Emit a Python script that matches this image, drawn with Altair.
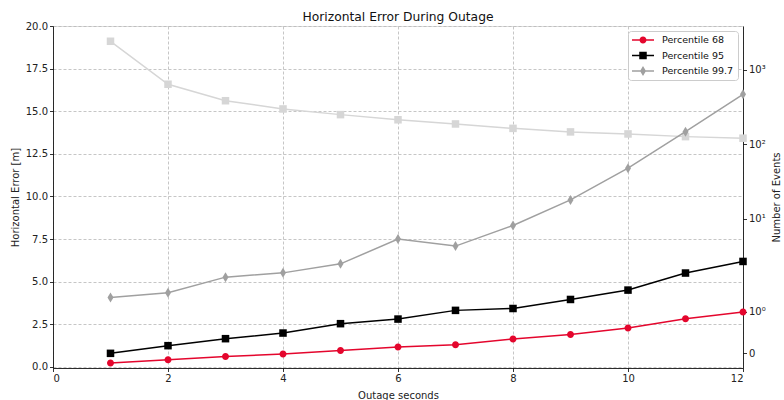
import math
import altair as alt
import pandas as pd

# ---------------- data ----------------
seconds = list(range(1, 13))
p68 = [0.23, 0.43, 0.62, 0.76, 0.97, 1.17, 1.31, 1.64, 1.91, 2.28, 2.83, 3.22]
p95 = [0.80, 1.25, 1.66, 1.99, 2.54, 2.81, 3.32, 3.43, 3.96, 4.51, 5.51, 6.19]
p997 = [4.08, 4.35, 5.27, 5.52, 6.05, 7.50, 7.09, 8.30, 9.80, 11.66, 13.80, 15.99]
events = [2432, 643, 386, 299, 251, 214, 188, 164, 147, 138, 127, 121]

series_names = ["Percentile 68", "Percentile 95", "Percentile 99.7"]
series_colors = ["#e4062d", "#000000", "#a0a0a0"]
events_color = "#d6d6d6"

x_ticks = [0, 2, 4, 6, 8, 10, 12]
y_ticks = [0, 2.5, 5, 7.5, 10, 12.5, 15, 17.5, 20]
event_ticks = [0, 1, 10, 100, 1000]
event_tick_labels = ["0", "10\u2070", "10\u00b9", "10\u00b2", "10\u00b3"]

FONT = "DejaVu Sans"

# symlog transform (linthresh 2, linscale 1, base 10), as in matplotlib
LT = 2.0
ADJ = 1.0 / (1.0 - 1.0 / 10.0)


def symlog(v):
    if abs(v) <= LT:
        return v * ADJ
    return math.copysign(LT * (ADJ + math.log10(abs(v) / LT)), v)


sym_expr = (
    f"abs(datum.n) <= {LT} ? datum.n * {ADJ} : "
    f"{LT} * ({ADJ} + log(datum.n / {LT}) / LN10)"
)
event_tick_pos = [symlog(v) for v in event_ticks]
label_expr = ""
for pos, lab in zip(event_tick_pos, event_tick_labels):
    label_expr += f"abs(datum.value - {pos}) < 0.01 ? '{lab}' : "
label_expr += "''"

pct_df = pd.DataFrame(
    {
        "sec": seconds * 3,
        "series": [series_names[0]] * 12 + [series_names[1]] * 12 + [series_names[2]] * 12,
        "err": p68 + p95 + p997,
    }
)
ev_df = pd.DataFrame({"sec": seconds, "n": events})

# ---------------- marker shapes (unit = 4px at size 64) ----------------
circle_p = "M0.875,0 A0.875,0.875 0 1,1 -0.875,0 A0.875,0.875 0 1,1 0.875,0 Z"
square_p = "M-0.94,-0.94 L0.94,-0.94 L0.94,0.94 L-0.94,0.94 Z"
diamond_p = "M0,-1.25 L0.75,0 L0,1.25 L-0.75,0 Z"


# legend symbols: line + marker (unit = 5px at size 100)
def with_line(marker, gap):
    t = 0.15
    return (
        f"M-2.2,{-t} L{-gap},{-t} L{-gap},{t} L-2.2,{t} Z "
        f"M{gap},{-t} L2.2,{-t} L2.2,{t} L{gap},{t} Z " + marker
    )


leg_circle = with_line("M0.7,0 A0.7,0.7 0 1,1 -0.7,0 A0.7,0.7 0 1,1 0.7,0 Z", 0.6)
leg_square = with_line("M-0.75,-0.75 L0.75,-0.75 L0.75,0.75 L-0.75,0.75 Z", 0.6)
leg_diamond = with_line("M0,-1.0 L0.6,0 L0,1.0 L-0.6,0 Z", 0.5)

# ---------------- encodings ----------------
grid_kw = dict(grid=True, gridColor="#b8b8b8", gridDash=[3, 2], gridWidth=0.8)
axis_kw = dict(
    labelFont=FONT, labelFontSize=10, labelColor="#222222",
    titleFont=FONT, titleFontSize=10, titleFontWeight="normal", titleColor="#222222",
    domainColor="#000000", domainWidth=0.8, tickColor="#000000", tickWidth=0.8,
    tickSize=3.5, labelPadding=2,
)

x_enc = alt.X(
    "sec:Q",
    scale=alt.Scale(domain=[0, 12], nice=False, zero=False),
    axis=alt.Axis(values=x_ticks, format="d", title="Outage seconds",
                  titlePadding=7, **grid_kw, **axis_kw),
)
y_enc = alt.Y(
    "err:Q",
    scale=alt.Scale(domain=[-0.06, 20], nice=False, zero=False),
    axis=alt.Axis(values=y_ticks, format=".1f", title="Horizontal Error [m]",
                  orient="left", titlePadding=5, **grid_kw, **axis_kw),
)
ev_y = alt.Y(
    "u:Q",
    scale=alt.Scale(domain=[-0.395, 8.803], nice=False, zero=False),
    axis=alt.Axis(values=event_tick_pos, labelExpr=label_expr, title="Number of Events",
                  orient="right", grid=False, titleAngle=270, titleBaseline="top",
                  titlePadding=6, **axis_kw),
)

color_enc = alt.Color("series:N", scale=alt.Scale(domain=series_names, range=series_colors), legend=None)

legend = alt.Legend(
    title=None, orient="top-right", offset=5, padding=4,
    strokeColor="#cccccc", fillColor="#ffffff", cornerRadius=3,
    symbolSize=100, symbolStrokeWidth=0, symbolOpacity=1, symbolOffset=6,
    symbolFillColor="#000000",
    labelOffset=14, rowPadding=5.5,
    labelFont=FONT, labelFontSize=9.5, labelColor="#111111",
)

# ---------------- layers ----------------
ev_base = alt.Chart(ev_df).transform_calculate(u=sym_expr)
ev_line = ev_base.mark_line(color=events_color, strokeWidth=1.5).encode(x=x_enc, y=ev_y)
ev_pts = ev_base.mark_point(filled=True, shape=square_p, size=64, color=events_color, opacity=1).encode(x=x_enc, y=ev_y)
ev_layer = alt.layer(ev_line, ev_pts)

pct_base = alt.Chart(pct_df)
pct_lines = pct_base.mark_line(strokeWidth=1.5).encode(x=x_enc, y=y_enc, color=color_enc)
pct_pts = pct_base.mark_point(filled=True, size=64, opacity=1).encode(
    x=x_enc, y=y_enc, color=color_enc,
    shape=alt.Shape("series:N", scale=alt.Scale(domain=series_names, range=[circle_p, square_p, diamond_p]), legend=None),
)
pct_legend = pct_base.mark_point(filled=True, opacity=0, size=1).encode(
    x=x_enc, y=y_enc,
    color=alt.Color("series:N", scale=alt.Scale(domain=series_names, range=series_colors), legend=legend),
    shape=alt.Shape("series:N", scale=alt.Scale(domain=series_names, range=[leg_circle, leg_square, leg_diamond]), legend=legend),
)
pct_layer = alt.layer(pct_lines, pct_pts, pct_legend).resolve_scale(
    shape="independent", color="independent"
)

chart = (
    alt.layer(ev_layer, pct_layer)
    .resolve_scale(y="independent")
    .properties(
        width=690,
        height=342,
        title=alt.TitleParams(
            "Horizontal Error During Outage", font=FONT, fontSize=12.3,
            fontWeight="normal", color="#111111", anchor="middle", frame="group",
            baseline="alphabetic", offset=-12,
        ),
        autosize=alt.AutoSizeParams(type="none"),
        padding={"left": 53, "top": 26, "right": 41, "bottom": 32},
    )
    .configure_view(stroke="#000000", strokeWidth=0.8)
    .configure(background="#ffffff")
)

chart.save("out.html", embed_options={"renderer": "svg", "actions": False})
